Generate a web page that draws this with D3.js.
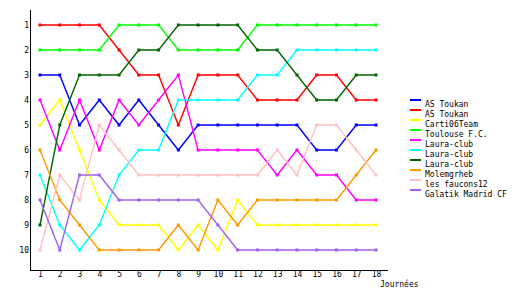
<!DOCTYPE html>
<html>
<head>
<meta charset="utf-8">
<script src="https://cdn.jsdelivr.net/npm/d3@7"></script>
<style>
	body { margin: 0; background: #fff; }
	text { font-family: "DejaVu Sans Mono", monospace; font-size: 8px; fill: #000; }
</style>
</head>
<body>
<div id="rankChart"></div>
<script>
var days = [1, 2, 3, 4, 5, 6, 7, 8, 9, 10, 11, 12, 13, 14, 15, 16, 17, 18];
var ranks = [1, 2, 3, 4, 5, 6, 7, 8, 9, 10];
var teams = ['AS Toukan', 'AS Toukan', 'Carti06Team', 'Toulouse F.C.', 'Laura-club', 'Laura-club', 'Laura-club', 'Molemgrheb', 'les faucons12', 'Galatik Madrid CF'];
var colors = ['#0000ff', '#ff0000', '#ffff00', '#00ff00', '#ff00ff', '#00ffff', '#006600', '#ff9900', '#ffc0c0', '#a060f0'];

var asToukanBlue = [3, 3, 5, 4, 5, 4, 5, 6, 5, 5, 5, 5, 5, 5, 6, 6, 5, 5];
var asToukanRed = [1, 1, 1, 1, 2, 3, 3, 5, 3, 3, 3, 4, 4, 4, 3, 3, 4, 4];
var carti06Team = [5, 4, 6, 8, 9, 9, 9, 10, 9, 10, 8, 9, 9, 9, 9, 9, 9, 9];
var toulouseFC = [2, 2, 2, 2, 1, 1, 1, 2, 2, 2, 2, 1, 1, 1, 1, 1, 1, 1];
var lauraMagenta = [4, 6, 4, 6, 4, 5, 4, 3, 6, 6, 6, 6, 7, 6, 7, 7, 8, 8];
var lauraCyan = [7, 9, 10, 9, 7, 6, 6, 4, 4, 4, 4, 3, 3, 2, 2, 2, 2, 2];
var lauraGreen = [9, 5, 3, 3, 3, 2, 2, 1, 1, 1, 1, 2, 2, 3, 4, 4, 3, 3];
var molemgrheb = [6, 8, 9, 10, 10, 10, 10, 9, 10, 8, 9, 8, 8, 8, 8, 8, 7, 6];
var faucons12 = [10, 7, 8, 5, 6, 7, 7, 7, 7, 7, 7, 7, 6, 7, 5, 5, 6, 7];
var galatik = [8, 10, 7, 7, 8, 8, 8, 8, 8, 9, 10, 10, 10, 10, 10, 10, 10, 10];

var allSeries = [asToukanBlue, asToukanRed, carti06Team, toulouseFC, lauraMagenta, lauraCyan, lauraGreen, molemgrheb, faucons12, galatik];

var width = 530, height = 300;
var svg = d3.select('#rankChart').append('svg')
	.attr('width', width)
	.attr('height', height);

var x = d3.scaleLinear().domain([1, 18]).range([40, 376]);
var y = d3.scaleLinear().domain([1, 10]).range([25, 250]);

// axes lines
svg.append('line')
	.attr('x1', 30.5).attr('x2', 30.5).attr('y1', 10).attr('y2', 270.5)
	.attr('stroke', '#000').attr('shape-rendering', 'crispEdges');
svg.append('line')
	.attr('x1', 30).attr('x2', 388).attr('y1', 270.5).attr('y2', 270.5)
	.attr('stroke', '#000').attr('shape-rendering', 'crispEdges');

// x ticks
var xAxis = svg.append('g')
	.attr('transform', 'translate(0,270)')
	.call(d3.axisBottom(x).tickValues(days).tickSize(0).tickPadding(2).tickFormat(d3.format('d')));
xAxis.select('.domain').remove();
xAxis.selectAll('text').attr('font-family', null).attr('font-size', null).attr('dy', '0.6em');

// y ticks
var yAxis = svg.append('g')
	.attr('transform', 'translate(29,0)')
	.call(d3.axisLeft(y).tickValues(ranks).tickSize(0).tickPadding(0).tickFormat(d3.format('d')));
yAxis.select('.domain').remove();
yAxis.selectAll('text').attr('font-family', null).attr('font-size', null);

svg.append('text')
	.attr('x', 380).attr('y', 287)
	.text('Journées');

var line = d3.line()
	.x(function(d, i) { return x(days[i]); })
	.y(function(d) { return y(d); });

for (var s = 0; s < allSeries.length; s++) {
	svg.append('path')
		.datum(allSeries[s])
		.attr('fill', 'none')
		.attr('stroke', colors[s])
		.attr('stroke-width', 1.4)
		.attr('d', line);
	svg.append('g').selectAll('rect')
		.data(allSeries[s])
		.enter().append('rect')
		.attr('x', function(d, i) { return x(days[i]) - 1.5; })
		.attr('y', function(d) { return y(d) - 1.5; })
		.attr('width', 3)
		.attr('height', 3)
		.attr('fill', colors[s]);
}

// legend
var legend = svg.append('g').attr('transform', 'translate(410,100)');
for (var i = 0; i < teams.length; i++) {
	legend.append('rect')
		.attr('x', 0).attr('y', i * 10 - 1)
		.attr('width', 11).attr('height', 2)
		.attr('fill', colors[i]);
	legend.append('text')
		.attr('x', 15).attr('y', i * 10 + 6.5)
		.text(teams[i]);
}
</script>
</body>
</html>
